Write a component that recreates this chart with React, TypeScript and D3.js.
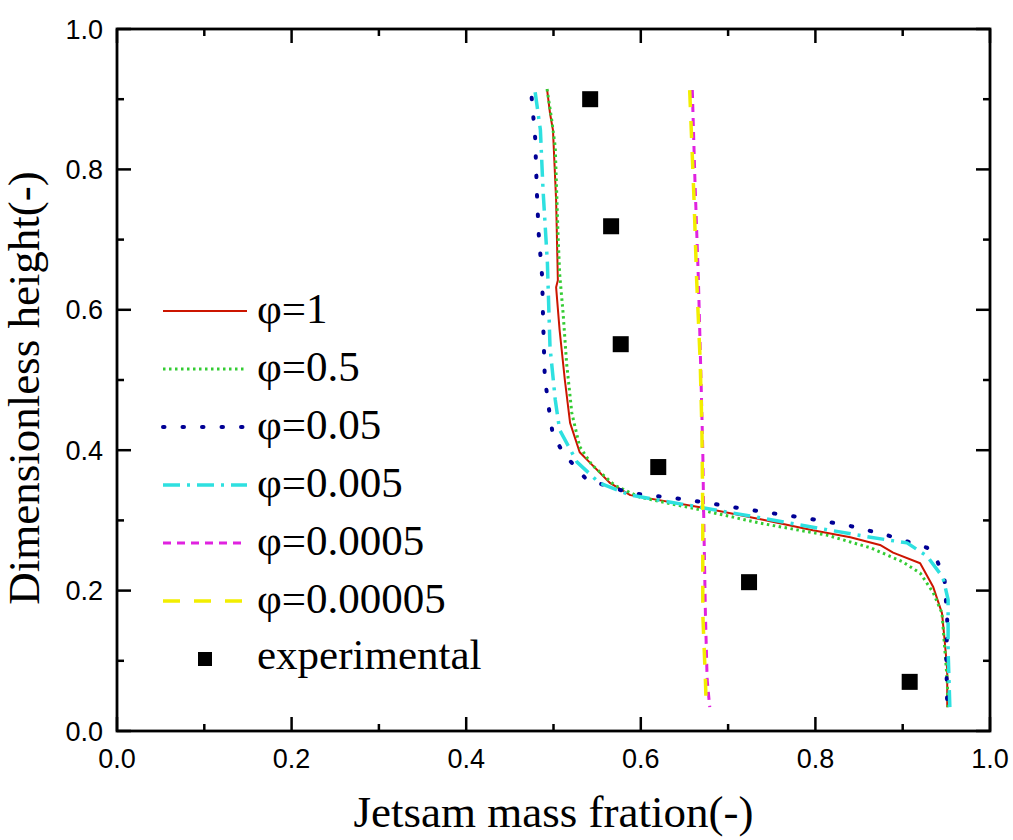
import React from "react";
import * as d3 from "d3";

// Data: [jetsam mass fraction, dimensionless height]
const phi1: [number, number][] = [
  [0.4926, 0.9145], [0.496, 0.88], [0.4994, 0.856], [0.503, 0.756], [0.505, 0.642],
  [0.503, 0.632], [0.507, 0.571], [0.513, 0.5], [0.519, 0.439], [0.53, 0.397],
  [0.542, 0.382], [0.565, 0.353], [0.588, 0.336], [0.671, 0.318], [0.74, 0.301],
  [0.797, 0.286], [0.84, 0.276], [0.874, 0.265], [0.889, 0.254], [0.92, 0.239],
  [0.935, 0.205], [0.945, 0.168], [0.948, 0.13], [0.951, 0.087], [0.951, 0.034],
];
const phi05: [number, number][] = [
  [0.4926, 0.9145], [0.498, 0.87], [0.502, 0.832], [0.505, 0.714], [0.507, 0.652],
  [0.511, 0.595], [0.515, 0.524], [0.521, 0.453], [0.53, 0.405], [0.544, 0.379],
  [0.57, 0.35], [0.599, 0.333], [0.668, 0.315], [0.737, 0.296], [0.813, 0.279],
  [0.863, 0.261], [0.9, 0.241], [0.92, 0.225], [0.935, 0.197], [0.945, 0.168],
  [0.948, 0.12], [0.951, 0.073], [0.952, 0.034],
];
const phi005: [number, number][] = [
  [0.475, 0.902], [0.479, 0.845], [0.481, 0.766], [0.483, 0.709], [0.487, 0.647],
  [0.488, 0.59], [0.49, 0.504], [0.495, 0.457], [0.499, 0.424], [0.511, 0.396],
  [0.538, 0.358], [0.588, 0.339], [0.656, 0.329], [0.725, 0.315], [0.79, 0.303],
  [0.837, 0.293], [0.882, 0.279], [0.928, 0.261], [0.94, 0.241], [0.948, 0.215],
  [0.951, 0.158], [0.95, 0.101], [0.951, 0.034],
];
const phi0005: [number, number][] = [
  [0.479, 0.91], [0.485, 0.856], [0.488, 0.771], [0.493, 0.667], [0.496, 0.547],
  [0.502, 0.472], [0.507, 0.429], [0.527, 0.383], [0.553, 0.353], [0.588, 0.336],
  [0.671, 0.318], [0.74, 0.303], [0.817, 0.286], [0.863, 0.276], [0.905, 0.268],
  [0.928, 0.249], [0.946, 0.219], [0.952, 0.187], [0.952, 0.115], [0.954, 0.034],
];
const phi00005: [number, number][] = [
  [0.659, 0.913], [0.662, 0.785], [0.666, 0.642], [0.669, 0.5], [0.671, 0.4],
  [0.672, 0.311], [0.674, 0.168], [0.676, 0.073], [0.679, 0.034],
];
const phi000005: [number, number][] = [
  [0.656, 0.913], [0.661, 0.756], [0.664, 0.642], [0.668, 0.528], [0.67, 0.429],
  [0.671, 0.311], [0.671, 0.168], [0.674, 0.073], [0.675, 0.034],
];
const experimental: [number, number][] = [
  [0.542, 0.9], [0.566, 0.719], [0.577, 0.551], [0.62, 0.376], [0.724, 0.212], [0.908, 0.07],
];

const seriesNames = ["φ=1", "φ=0.5", "φ=0.05", "φ=0.005", "φ=0.0005", "φ=0.00005"];
const seriesData = [phi1, phi05, phi005, phi0005, phi00005, phi000005];
const seriesColors = ["#cc1500", "#33cc33", "#000095", "#2ee0e0", "#e022e0", "#f2ee00"];
const seriesDash = ["none", "2.5,3.5", "1.5,18", "17,7,3,7", "8,6", "17,14"];
const seriesWidth = [2, 3, 4, 3.5, 3, 3.5];
const majorTicks = [0, 0.2, 0.4, 0.6, 0.8, 1.0];
const minorTicks = [0.1, 0.3, 0.5, 0.7, 0.9];

const L = 117, R = 990, T = 29, B = 731;
const SANS = "Liberation Sans, Arial, sans-serif";
const SERIF = "Liberation Serif, Times New Roman, serif";

export default function App() {
  const x = d3.scaleLinear().domain([0, 1]).range([L, R]);
  const y = d3.scaleLinear().domain([0, 1]).range([B, T]);
  const line = d3.line<[number, number]>().x((d) => x(d[0])).y((d) => y(d[1]));
  const MAJ = 14, MIN = 7;
  const legendY0 = 311, legendStep = 58;

  return (
    <svg width={1013} height={840} style={{ position: "absolute", left: 0, top: 0, background: "#fff" }}>
      <rect x={0} y={0} width={1013} height={840} fill="#fff" />
      {/* series */}
      {seriesData.map((d, i) => (
        <path key={i} d={line(d) || ""} fill="none" stroke={seriesColors[i]}
          strokeWidth={seriesWidth[i]} strokeDasharray={seriesDash[i]}
          strokeLinecap={i === 2 ? "round" : "butt"} strokeLinejoin="round" />
      ))}
      {experimental.map((d, i) => (
        <rect key={i} x={x(d[0]) - 8} y={y(d[1]) - 8} width={16} height={16} fill="#000" />
      ))}
      {/* ticks */}
      {majorTicks.map((t, i) => (
        <g key={"M" + i} stroke="#000" strokeWidth={2.5}>
          <line x1={x(t)} x2={x(t)} y1={B} y2={B - MAJ} />
          <line x1={x(t)} x2={x(t)} y1={T} y2={T + MAJ} />
          <line x1={L} x2={L + MAJ} y1={y(t)} y2={y(t)} />
          <line x1={R} x2={R - MAJ} y1={y(t)} y2={y(t)} />
        </g>
      ))}
      {minorTicks.map((t, i) => (
        <g key={"m" + i} stroke="#000" strokeWidth={2.5}>
          <line x1={x(t)} x2={x(t)} y1={B} y2={B - MIN} />
          <line x1={x(t)} x2={x(t)} y1={T} y2={T + MIN} />
          <line x1={L} x2={L + MIN} y1={y(t)} y2={y(t)} />
          <line x1={R} x2={R - MIN} y1={y(t)} y2={y(t)} />
        </g>
      ))}
      <rect x={L} y={T} width={R - L} height={B - T} fill="none" stroke="#000" strokeWidth={2.8} />
      {/* tick labels */}
      {majorTicks.map((t, i) => (
        <text key={"xl" + i} x={x(t)} y={768} textAnchor="middle"
          fontFamily={SANS} fontSize={27} fill="#000">
          {t.toFixed(1)}
        </text>
      ))}
      {majorTicks.map((t, i) => (
        <text key={"yl" + i} x={L - 14} y={y(t) + 9.5} textAnchor="end"
          fontFamily={SANS} fontSize={27} fill="#000">
          {t.toFixed(1)}
        </text>
      ))}
      {/* axis titles */}
      <text x={(L + R) / 2} y={827} textAnchor="middle"
        fontFamily={SERIF} fontSize={45} fill="#000">
        Jetsam mass fration(-)
      </text>
      <text transform={`translate(39, ${388}) rotate(-90)`} textAnchor="middle"
        fontFamily={SERIF} fontSize={45} fill="#000">
        Dimensionless height(-)
      </text>
      {/* legend */}
      {seriesNames.map((n, i) => {
        const ly = legendY0 + i * legendStep;
        return (
          <g key={"lg" + i}>
            <line x1={163} x2={247} y1={ly} y2={ly} stroke={seriesColors[i]}
              strokeWidth={seriesWidth[i]} strokeDasharray={seriesDash[i]}
              strokeLinecap={i === 2 ? "round" : "butt"} />
            <text x={257} y={ly + 12} fontFamily={SERIF}
              fontSize={43} fill="#000">{n}</text>
          </g>
        );
      })}
      <rect x={205 - 7} y={legendY0 + 6 * legendStep - 7} width={14} height={14} fill="#000" />
      <text x={257} y={legendY0 + 6 * legendStep + 10} fontFamily={SERIF}
        fontSize={43} fill="#000">experimental</text>
    </svg>
  );
}
